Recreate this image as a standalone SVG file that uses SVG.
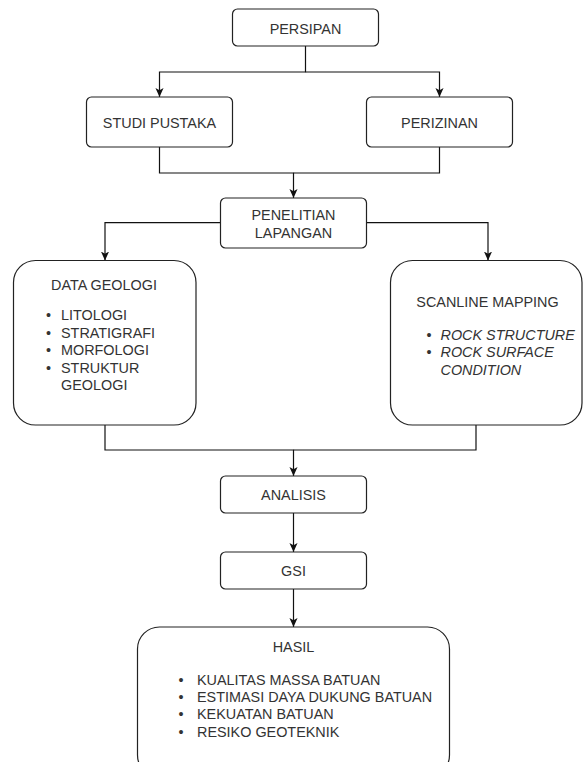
<svg xmlns="http://www.w3.org/2000/svg" width="583" height="762" viewBox="0 0 583 762">
<defs>
<style>
.box{fill:#fff;stroke:#222;stroke-width:1.2}
.t{font-family:"Liberation Sans",Arial,sans-serif;font-size:14.4px;fill:#333}
.c{text-anchor:middle}
.i{font-style:italic}
.b{text-anchor:middle}
.ln{fill:none;stroke:#111;stroke-width:1.2}
</style>
<marker id="arr" markerUnits="userSpaceOnUse" markerWidth="9" markerHeight="9" viewBox="0 0 10 10" refX="10" refY="5" orient="auto">
<path d="M0,0.5 L10,5 L0,9.5 L2.5,5 z" fill="#111"/>
</marker>
</defs>
<rect width="583" height="762" fill="#fff"/>
<g id="connectors">
<path class="ln" d="M305.5,46 V72 H159.5 V97" marker-end="url(#arr)"/>
<path class="ln" d="M305.5,72 H439.5 V97" marker-end="url(#arr)"/>
<path class="ln" d="M159.5,147 V173 H293.5 V198" marker-end="url(#arr)"/>
<path class="ln" d="M439.5,147 V173 H293.5"/>
<path class="ln" d="M220.5,222.7 H105 V260.5" marker-end="url(#arr)"/>
<path class="ln" d="M366.5,222.7 H488 V260.5" marker-end="url(#arr)"/>
<path class="ln" d="M105,425 V450 H293.5 V476" marker-end="url(#arr)"/>
<path class="ln" d="M476,425 V450 H293.5"/>
<path class="ln" d="M293.5,513 V552" marker-end="url(#arr)"/>
<path class="ln" d="M293.5,589 V627" marker-end="url(#arr)"/>
</g>
<g id="persipan">
<rect class="box" x="232.5" y="9" width="146" height="37" rx="5"/>
<text class="t c" x="305.5" y="33.5">PERSIPAN</text>
</g>
<g id="studi-pustaka">
<rect class="box" x="86.5" y="97" width="146" height="50" rx="5"/>
<text class="t c" x="159.5" y="127.5">STUDI PUSTAKA</text>
</g>
<g id="perizinan">
<rect class="box" x="366.5" y="97" width="146" height="50" rx="5"/>
<text class="t c" x="439.5" y="127.5">PERIZINAN</text>
</g>
<g id="penelitian-lapangan">
<rect class="box" x="220.5" y="198" width="146" height="50" rx="5"/>
<text class="t c" x="293.5" y="220">PENELITIAN</text>
<text class="t c" x="293.5" y="237.5">LAPANGAN</text>
</g>
<g id="data-geologi">
<rect class="box" x="13.5" y="260.5" width="182.5" height="164.5" rx="22"/>
<text class="t c" x="104" y="290">DATA GEOLOGI</text>
<text class="t b" x="48.5" y="320">•</text><text class="t" x="61" y="320">LITOLOGI</text>
<text class="t b" x="48.5" y="337.5">•</text><text class="t" x="61" y="337.5">STRATIGRAFI</text>
<text class="t b" x="48.5" y="355">•</text><text class="t" x="61" y="355">MORFOLOGI</text>
<text class="t b" x="48.5" y="372.5">•</text><text class="t" x="61" y="372.5">STRUKTUR</text>
<text class="t" x="61" y="390">GEOLOGI</text>
</g>
<g id="scanline-mapping">
<rect class="box" x="390.5" y="260.5" width="191.5" height="164.5" rx="22"/>
<text class="t c" x="487.5" y="307">SCANLINE MAPPING</text>
<text class="t b" x="429" y="339.5">•</text><text class="t i" x="440.5" y="339.5">ROCK STRUCTURE</text>
<text class="t b" x="429" y="357">•</text><text class="t i" x="440.5" y="357">ROCK SURFACE</text>
<text class="t i" x="440.5" y="374.5">CONDITION</text>
</g>
<g id="analisis">
<rect class="box" x="220.5" y="476" width="146" height="37" rx="5"/>
<text class="t c" x="293.5" y="500">ANALISIS</text>
</g>
<g id="gsi">
<rect class="box" x="220.5" y="552" width="146" height="37" rx="5"/>
<text class="t c" x="293.5" y="576">GSI</text>
</g>
<g id="hasil">
<rect class="box" x="137.5" y="627" width="312" height="150" rx="22"/>
<text class="t c" x="293.5" y="651.5">HASIL</text>
<text class="t b" x="181" y="685">•</text><text class="t" x="197" y="685">KUALITAS MASSA BATUAN</text>
<text class="t b" x="181" y="702">•</text><text class="t" x="197" y="702">ESTIMASI DAYA DUKUNG BATUAN</text>
<text class="t b" x="181" y="719">•</text><text class="t" x="197" y="719">KEKUATAN BATUAN</text>
<text class="t b" x="181" y="736.5">•</text><text class="t" x="197" y="736.5">RESIKO GEOTEKNIK</text>
</g>
</svg>
